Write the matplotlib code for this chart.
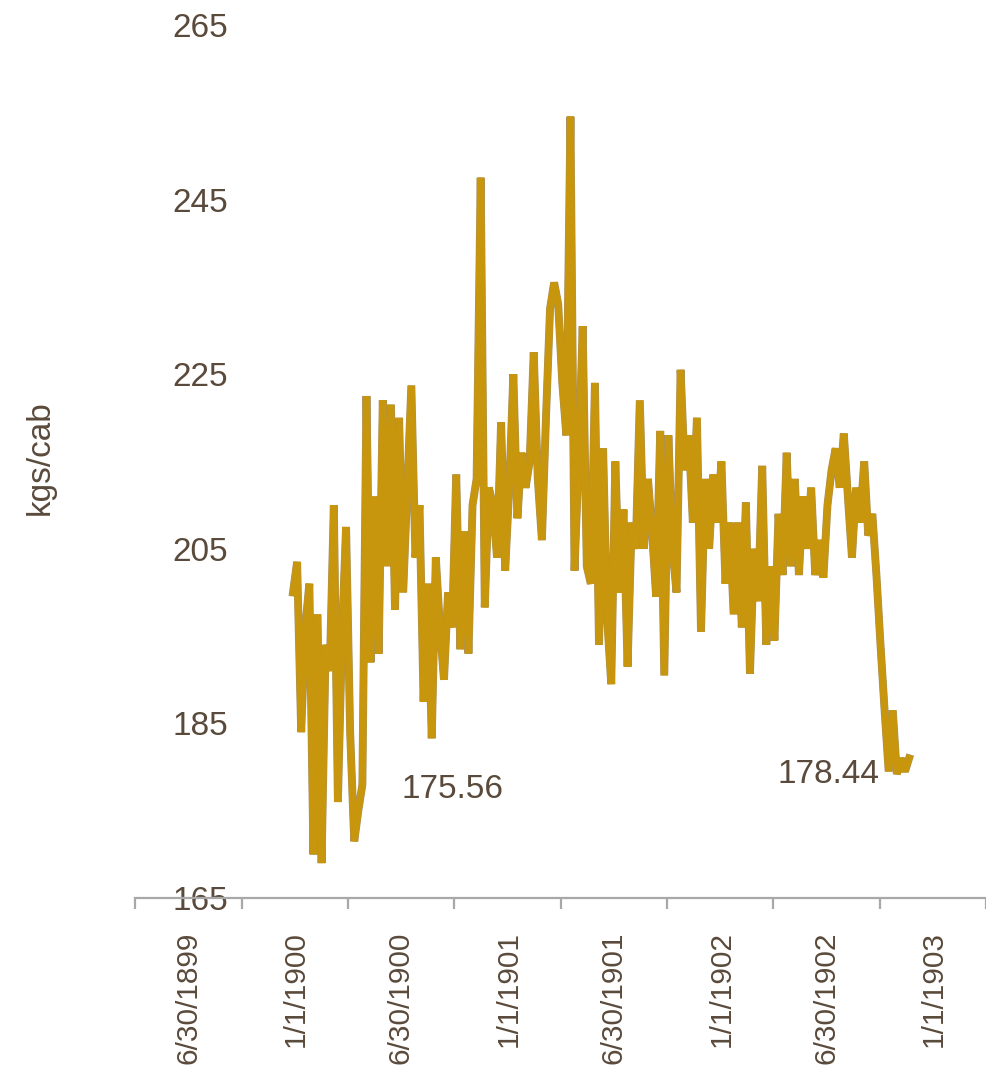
import matplotlib.pyplot as plt
import matplotlib.patheffects as pe
import pandas as pd

# weekly price, kgs/cab
kgs = [200, 203.5, 184, 196, 201, 170, 197.5, 169, 194, 191,
       210, 176, 195, 207.5, 184, 171.5, 175, 178, 222.5, 192,
       211, 193, 222, 203, 221.5, 198, 220, 200, 212, 223.7,
       204, 210, 187.5, 201, 183.3, 204, 196, 190, 200, 196,
       213.5, 193.5, 207, 193, 210, 213, 247.5, 198.3, 212, 210,
       204, 219.5, 202.5, 212, 225, 208.5, 216, 212, 215, 227.5,
       213, 206, 220, 232.5, 235.5, 233, 224, 218, 254.5, 202.5,
       215, 230.5, 203, 201, 224, 194, 216.5, 197, 189.5, 215,
       200, 209.5, 191.5, 208, 205, 222, 205, 213, 207, 199.5,
       218.5, 190.5, 218, 205, 200, 225.5, 214, 218, 208, 220,
       195.5, 213, 205, 213.5, 208, 215, 201, 208, 197.5, 208,
       196, 210.3, 190.7, 205, 199, 214.5, 194, 203, 194.5, 209,
       202, 216, 203, 213, 202, 211, 205, 212, 202, 206,
       201.7, 210, 214, 216.5, 212, 218.2, 211, 204, 212, 208,
       215, 206.5, 209, 202, 194, 186.5, 179.5, 186.5, 179.2, 181,
       179.5, 181]
dates = pd.date_range('1899-12-27', periods=len(kgs), freq='7D')

label_dates = pd.to_datetime(['1899-06-30', '1900-01-01', '1900-06-30', '1901-01-01',
                              '1901-06-30', '1902-01-01', '1902-06-30', '1903-01-01'])
label_text = ['6/30/1899', '1/1/1900', '6/30/1900', '1/1/1901',
              '6/30/1901', '1/1/1902', '6/30/1902', '1/1/1903']
tick_marks = pd.to_datetime(['1899-03-31', '1899-09-30', '1900-03-31', '1900-09-30',
                             '1901-03-31', '1901-09-30', '1902-03-31', '1902-09-30',
                             '1903-03-31'])
yticks = [165, 185, 205, 225, 245, 265]

notes = [('175.56', '1900-09-27', 177.4), ('178.44', '1902-07-03', 179.1)]

TXT = '#5a4a3b'
AXC = '#a8a8a8'
fam = ['Liberation Sans Narrow', 'Liberation Sans', 'DejaVu Sans']

fig = plt.figure(figsize=(9.86, 10.71), dpi=100)
ax = fig.add_axes([0.137, 0.1615, 0.863, 0.8152])

ax.plot(dates, kgs, color='#c8960c', lw=5.0, solid_joinstyle='bevel',
        path_effects=[pe.Stroke(linewidth=5.7, foreground='#a89060'), pe.Normal()])

ax.set_ylim(165, 265)
ax.set_xlim(pd.Timestamp('1899-04-02'), pd.Timestamp('1903-03-29'))

for s in ['top', 'right', 'left']:
    ax.spines[s].set_visible(False)
ax.spines['bottom'].set_color(AXC)
ax.spines['bottom'].set_linewidth(1.6)

ax.set_yticks(yticks)
ax.set_yticklabels([str(v) for v in yticks], fontsize=24, color=TXT, family=fam)
ax.tick_params(axis='y', length=0, pad=-67)

ax.set_xticks(label_dates)
ax.set_xticklabels(label_text, rotation=90, fontsize=21.5, color=TXT, family=fam)
ax.set_xticks(tick_marks, minor=True)
ax.tick_params(axis='x', which='major', length=0, pad=24)
ax.tick_params(axis='x', which='minor', length=8, width=1.6, color=AXC)

for txt, d, v in notes:
    ax.text(pd.Timestamp(d), v, txt, ha='center', va='center',
            fontsize=24, color=TXT, family=fam)

fig.text(40 / 986, 1 - 458 / 1071, 'kgs/cab', rotation=90, ha='center', va='center',
         fontsize=24, color=TXT, family=fam)

fig.savefig('out.png', dpi=100)
